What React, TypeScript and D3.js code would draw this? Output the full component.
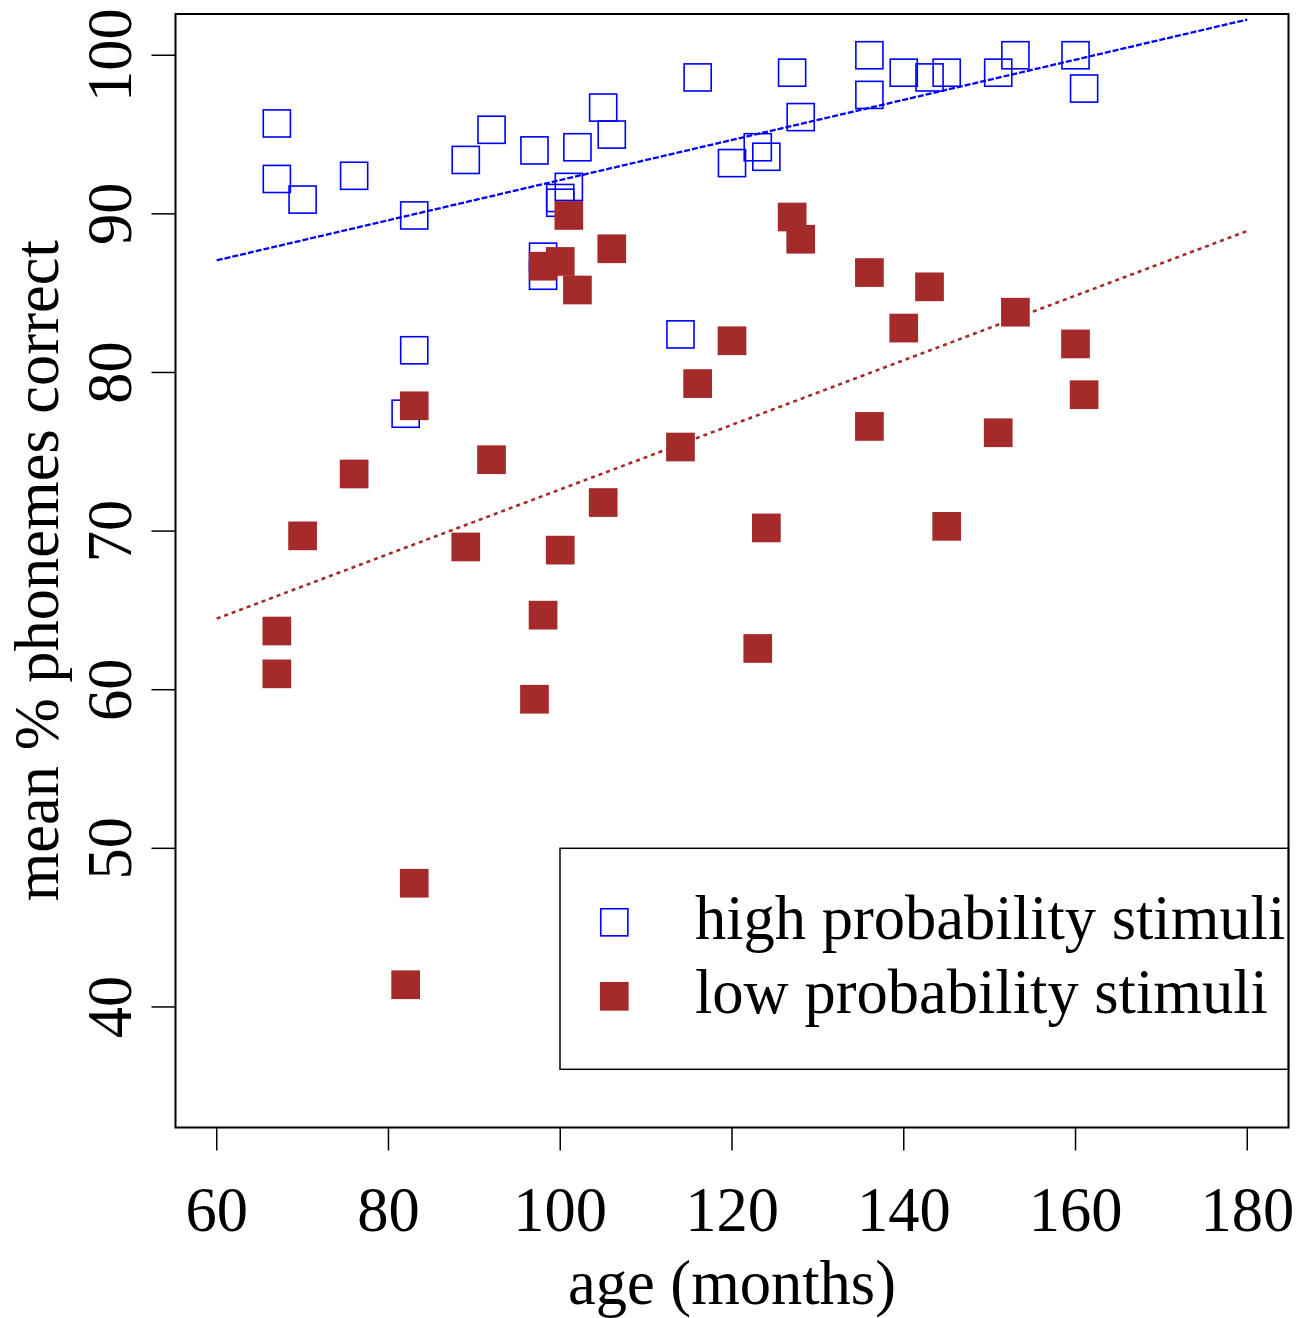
import React from "react";
import * as d3 from "d3";

const ages = [67, 67, 70, 76, 82, 83, 83, 89, 92, 97, 98, 98, 100, 100, 101, 102, 105, 106, 114, 116, 120, 123, 124, 127, 128, 136, 136, 140, 143, 145, 151, 153, 160, 161];
const highProb = [95.7, 92.2, 90.9, 92.4, 77.4, 89.9, 81.4, 93.4, 95.3, 94.0, 87.3, 86.1, 91.0, 90.7, 91.7, 94.2, 96.7, 95.0, 82.4, 98.6, 93.2, 94.2, 93.6, 98.9, 96.1, 100.0, 97.5, 98.9, 98.6, 98.9, 98.9, 100.0, 100.0, 97.9];
const lowProb = [63.7, 61.0, 69.7, 73.6, 41.4, 77.9, 47.8, 69.0, 74.5, 59.4, 86.7, 64.7, 87.0, 68.8, 89.9, 85.2, 71.8, 87.8, 75.3, 79.3, 82.0, 62.6, 70.2, 89.8, 88.4, 86.3, 76.6, 82.8, 85.4, 70.3, 76.2, 83.8, 81.8, 78.6];
const fitAges = [60, 180];
const highFit = [87.07, 102.25];
const lowFit = [64.48, 88.92];
const xTicks = [60, 80, 100, 120, 140, 160, 180];
const yTicks = [40, 50, 60, 70, 80, 90, 100];
const legendLabels = ["high probability stimuli", "low probability stimuli"];
const xTitle = "age (months)";
const yTitle = "mean % phonemes correct";

const BLUE = "#0000FF";
const BROWN = "#A52A2A";
const FONT = "'Liberation Serif', 'Times New Roman', serif";
const FS = 62.5;
const SQ = 28.7;

export default function App() {
  const x = d3.scaleLinear().domain([55.2, 184.8]).range([175.5, 1288.5]);
  const y = d3.scaleLinear().domain([32.4, 102.6]).range([1127.5, 14]);
  const line = d3
    .line<[number, number]>()
    .x((d) => x(d[0]))
    .y((d) => y(d[1]));
  const highLine = line(fitAges.map((a, i) => [a, highFit[i]] as [number, number])) || "";
  const lowLine = line(fitAges.map((a, i) => [a, lowFit[i]] as [number, number])) || "";
  const [x0, x1] = x.range();
  const [yb, yt] = y.range();

  return (
    <div style={{ position: "absolute", left: 0, top: 0 }}>
      <svg width={1297} height={1318} style={{ display: "block", background: "#fff" }} fontFamily={FONT}>
        <rect x={0} y={0} width={1297} height={1318} fill="#fff" />
        {/* regression lines */}
        <path d={highLine} fill="none" stroke={BLUE} strokeWidth={2.3} strokeDasharray="6,2" />
        <path d={lowLine} fill="none" stroke={BROWN} strokeWidth={2.6} strokeDasharray="4,4" />
        {/* high probability points */}
        {ages.map((a, i) => (
          <rect
            key={"h" + i}
            x={x(a) - (SQ - 1.6) / 2}
            y={y(highProb[i]) - (SQ - 1.6) / 2}
            width={SQ - 1.6}
            height={SQ - 1.6}
            fill="none"
            stroke={BLUE}
            strokeWidth={1.6}
          />
        ))}
        {/* low probability points */}
        {ages.map((a, i) => (
          <rect
            key={"l" + i}
            x={x(a) - SQ / 2}
            y={y(lowProb[i]) - SQ / 2}
            width={SQ}
            height={SQ}
            fill={BROWN}
          />
        ))}
        {/* frame */}
        <rect x={x0} y={yt} width={x1 - x0} height={yb - yt} fill="none" stroke="#000" strokeWidth={2} />
        {/* x axis */}
        {xTicks.map((t) => (
          <g key={"xt" + t}>
            <line x1={x(t)} x2={x(t)} y1={yb} y2={yb + 23} stroke="#000" strokeWidth={1.5} />
            <text x={x(t)} y={1231} fontSize={FS} textAnchor="middle" fill="#000">
              {t}
            </text>
          </g>
        ))}
        {/* y axis */}
        {yTicks.map((t) => (
          <g key={"yt" + t}>
            <line x1={x0} x2={x0 - 24} y1={y(t)} y2={y(t)} stroke="#000" strokeWidth={1.5} />
            <text
              transform={`translate(131,${y(t)}) rotate(-90)`}
              fontSize={FS}
              textAnchor="middle"
              fill="#000"
            >
              {t}
            </text>
          </g>
        ))}
        <text x={(x0 + x1) / 2} y={1304} fontSize={FS} textAnchor="middle" fill="#000">
          {xTitle}
        </text>
        <text
          transform={`translate(58,${(yb + yt) / 2}) rotate(-90)`}
          fontSize={FS}
          textAnchor="middle"
          fill="#000"
        >
          {yTitle}
        </text>
        {/* legend */}
        <rect x={560} y={848.3} width={x1 - 560} height={1069.3 - 848.3} fill="none" stroke="#000" strokeWidth={1.5} />
        <rect x={614.3 - (SQ - 1.6) / 2} y={922.3 - (SQ - 1.6) / 2} width={SQ - 1.6} height={SQ - 1.6} fill="none" stroke={BLUE} strokeWidth={1.6} />
        <rect x={614.3 - SQ / 2} y={996.3 - SQ / 2} width={SQ} height={SQ} fill={BROWN} />
        {legendLabels.map((lab, i) => (
          <text key={lab} x={695} y={938.5 + i * 74} fontSize={FS} fill="#000">
            {lab}
          </text>
        ))}
      </svg>
    </div>
  );
}
